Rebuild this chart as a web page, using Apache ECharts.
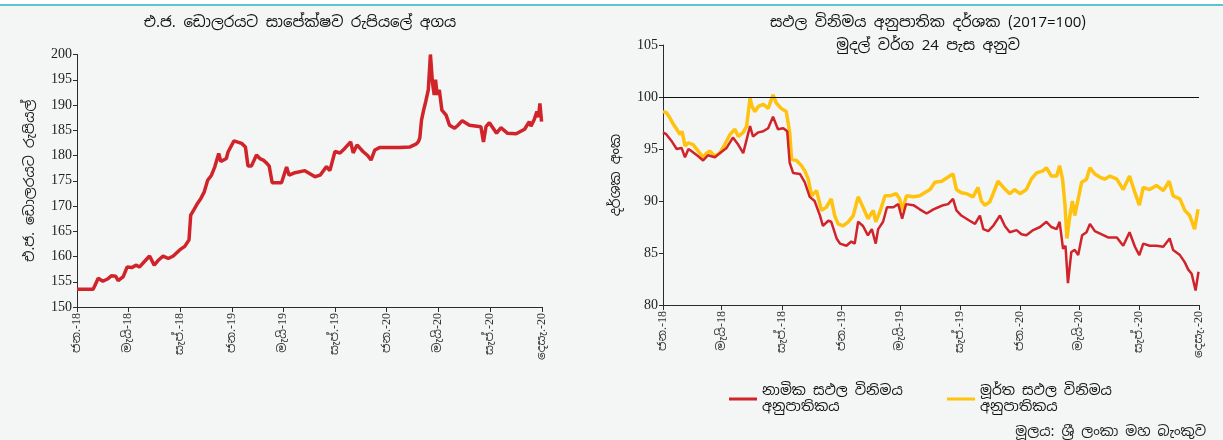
<!DOCTYPE html>
<html>
<head>
<meta charset="utf-8">
<script src="https://cdn.jsdelivr.net/npm/echarts@6.0.0/dist/echarts.min.js"></script>
<style>
  html, body { margin: 0; padding: 0; background: #ffffff; }
  #chart { width: 1223px; height: 440px; }
</style>
</head>
<body>
<div id="chart"></div>
<script>
// ---------- DATA ----------
const tickDates = ['2018-01-01','2018-05-01','2018-09-01','2019-01-01','2019-05-01','2019-09-01','2020-01-01','2020-05-01','2020-09-01','2021-01-01'];
const tickLabels = ['ජන.-18','මැයි-18','සැප්.-18','ජන.-19','මැයි-19','සැප්.-19','ජන.-20','මැයි-20','සැප්.-20','දෙසැ.-20'];

const leftTicks = [150,155,160,165,170,175,180,185,190,195,200];
const rightTicks = [80,85,90,95,100,105];

const usdDates = ['2018-01-01','2018-01-20','2018-02-08','2018-02-12','2018-02-20','2018-03-03','2018-03-15','2018-03-23','2018-04-02','2018-04-08','2018-04-20','2018-04-29','2018-05-10','2018-05-21','2018-05-28','2018-06-09','2018-06-21','2018-07-02','2018-07-11','2018-07-23','2018-08-04','2018-08-16','2018-08-31','2018-09-12','2018-09-22','2018-09-26','2018-10-03','2018-10-12','2018-10-20','2018-10-28','2018-11-05','2018-11-14','2018-11-22','2018-12-01','2018-12-06','2018-12-19','2018-12-23','2019-01-06','2019-01-24','2019-02-02','2019-02-08','2019-02-16','2019-02-28','2019-03-08','2019-03-16','2019-03-24','2019-03-30','2019-04-06','2019-04-28','2019-05-10','2019-05-16','2019-05-30','2019-06-22','2019-07-16','2019-07-28','2019-08-12','2019-08-20','2019-09-01','2019-09-13','2019-09-24','2019-10-08','2019-10-14','2019-10-23','2019-11-06','2019-11-17','2019-11-25','2019-12-04','2019-12-16','2020-01-04','2020-02-01','2020-02-25','2020-03-11','2020-03-16','2020-03-19','2020-03-23','2020-03-28','2020-04-02','2020-04-08','2020-04-13','2020-04-18','2020-04-22','2020-04-25','2020-04-29','2020-05-04','2020-05-10','2020-05-20','2020-05-28','2020-06-09','2020-06-17','2020-06-27','2020-07-14','2020-08-10','2020-08-16','2020-08-22','2020-08-30','2020-09-16','2020-09-26','2020-10-12','2020-11-01','2020-11-21','2020-12-02','2020-12-06','2020-12-14','2020-12-20','2020-12-24','2020-12-27','2020-12-29','2020-12-31'];
const usdValues = [153.5,153.5,153.5,154.2,155.7,155.1,155.6,156.2,156.1,155.2,156.0,157.9,157.8,158.3,157.9,159.0,160.1,158.3,159.2,160.1,159.6,160.1,161.3,162.0,163.3,168.2,169.2,170.5,171.5,172.8,175.1,176.1,177.8,180.4,178.8,179.4,180.7,182.9,182.4,181.7,177.9,177.9,180.1,179.4,179.1,178.5,177.9,174.6,174.6,177.7,176.1,176.6,177.0,175.8,176.1,177.8,177.0,180.8,180.5,181.4,182.7,180.5,182.1,180.8,180.0,179.1,181.1,181.6,181.6,181.6,181.7,182.3,182.8,183.5,187.0,189.0,190.7,193.0,200.0,194.3,192.0,195.0,192.0,193.0,189.0,188.0,186.0,185.4,186.0,186.9,186.0,185.7,182.7,185.7,186.5,184.4,185.5,184.4,184.3,185.2,186.7,185.8,187.2,188.7,187.6,190.3,190.5,186.7];

const neerDates = ['2018-01-01','2018-01-08','2018-01-18','2018-01-29','2018-02-08','2018-02-15','2018-02-22','2018-02-28','2018-03-14','2018-03-24','2018-04-03','2018-04-17','2018-04-27','2018-05-11','2018-05-24','2018-06-04','2018-06-14','2018-06-21','2018-06-28','2018-07-04','2018-07-15','2018-07-25','2018-08-04','2018-08-14','2018-08-24','2018-09-04','2018-09-12','2018-09-17','2018-09-24','2018-10-08','2018-10-18','2018-10-28','2018-11-07','2018-11-18','2018-11-24','2018-12-05','2018-12-11','2018-12-22','2018-12-29','2019-01-11','2019-01-21','2019-01-28','2019-02-04','2019-02-14','2019-02-24','2019-03-04','2019-03-12','2019-03-17','2019-03-27','2019-04-04','2019-04-17','2019-04-27','2019-05-05','2019-05-13','2019-05-28','2019-06-10','2019-06-24','2019-07-08','2019-07-18','2019-07-28','2019-08-07','2019-08-17','2019-08-24','2019-09-03','2019-09-20','2019-10-01','2019-10-11','2019-10-18','2019-10-28','2019-11-07','2019-11-21','2019-12-01','2019-12-11','2019-12-25','2020-01-04','2020-01-14','2020-01-28','2020-02-11','2020-02-24','2020-03-05','2020-03-16','2020-03-22','2020-03-29','2020-04-03','2020-04-08','2020-04-15','2020-04-22','2020-04-29','2020-05-07','2020-05-16','2020-05-23','2020-06-02','2020-06-16','2020-06-29','2020-07-17','2020-07-30','2020-08-12','2020-08-23','2020-09-01','2020-09-09','2020-09-22','2020-10-06','2020-10-20','2020-11-02','2020-11-09','2020-11-23','2020-12-03','2020-12-10','2020-12-17','2020-12-25','2020-12-31'];
const neerValues = [96.6,96.4,95.8,95.0,95.1,94.2,95.0,94.8,94.3,93.9,94.4,94.2,94.6,95.1,96.1,95.4,94.6,95.9,97.2,96.2,96.6,96.7,97.0,98.1,96.9,97.0,96.7,93.7,92.7,92.6,91.8,90.4,90.0,88.6,87.6,88.1,88.0,86.4,85.9,85.7,86.1,85.9,88.0,87.6,86.7,87.3,85.9,87.3,88.0,89.4,89.4,89.7,88.3,89.7,89.6,89.2,88.8,89.2,89.4,89.6,89.7,90.2,89.1,88.6,88.1,87.8,88.6,87.3,87.1,87.6,88.6,87.6,87.0,87.2,86.8,86.7,87.2,87.5,88.0,87.5,87.3,88.0,85.4,85.7,82.1,85.1,85.3,84.8,86.7,87.0,87.8,87.1,86.8,86.5,86.5,85.7,87.0,85.6,84.8,85.9,85.7,85.7,85.6,86.4,85.3,84.8,84.1,83.4,83.0,81.4,83.2];

const reerDates = ['2018-01-01','2018-01-08','2018-01-15','2018-01-22','2018-01-29','2018-02-05','2018-02-09','2018-02-15','2018-02-22','2018-03-04','2018-03-14','2018-03-24','2018-03-31','2018-04-07','2018-04-17','2018-04-27','2018-05-07','2018-05-18','2018-05-28','2018-06-04','2018-06-14','2018-06-21','2018-06-28','2018-07-02','2018-07-08','2018-07-15','2018-07-25','2018-08-04','2018-08-14','2018-08-21','2018-08-31','2018-09-10','2018-09-17','2018-09-21','2018-10-01','2018-10-11','2018-10-18','2018-10-25','2018-11-01','2018-11-11','2018-11-21','2018-12-01','2018-12-11','2018-12-18','2018-12-25','2019-01-04','2019-01-15','2019-01-25','2019-02-04','2019-02-14','2019-02-24','2019-03-07','2019-03-12','2019-03-20','2019-03-31','2019-04-10','2019-04-23','2019-04-30','2019-05-05','2019-05-14','2019-05-28','2019-06-10','2019-06-20','2019-07-01','2019-07-11','2019-07-25','2019-08-07','2019-08-17','2019-08-24','2019-09-03','2019-09-14','2019-09-27','2019-10-07','2019-10-14','2019-10-21','2019-10-31','2019-11-07','2019-11-17','2019-11-28','2019-12-11','2019-12-21','2020-01-01','2020-01-14','2020-01-24','2020-02-04','2020-02-17','2020-02-24','2020-03-05','2020-03-16','2020-03-22','2020-03-28','2020-04-02','2020-04-06','2020-04-12','2020-04-17','2020-04-22','2020-04-29','2020-05-06','2020-05-16','2020-05-23','2020-06-02','2020-06-12','2020-06-22','2020-07-03','2020-07-17','2020-07-30','2020-08-12','2020-08-23','2020-09-01','2020-09-09','2020-09-22','2020-10-06','2020-10-20','2020-11-01','2020-11-09','2020-11-23','2020-12-03','2020-12-13','2020-12-23','2020-12-30'];
const reerValues = [98.6,98.5,98.0,97.4,96.9,96.4,96.7,95.3,95.6,95.4,94.8,94.2,94.6,94.8,94.3,94.6,95.4,96.4,96.9,96.2,96.6,97.2,99.9,99.1,98.6,99.1,99.3,98.9,100.2,99.4,98.9,98.6,96.6,94.0,93.9,93.4,92.9,92.1,90.5,91.0,89.1,89.4,90.2,88.6,87.8,87.6,88.0,88.6,90.4,89.4,88.3,89.1,88.0,88.9,90.5,90.5,90.7,90.2,89.1,90.5,90.4,90.5,90.8,91.1,91.8,91.9,92.3,92.6,91.1,90.8,90.7,90.4,91.3,90.0,89.6,89.9,90.7,91.9,91.3,90.7,91.1,90.7,91.1,92.1,92.7,92.9,93.2,92.4,92.4,93.4,92.1,89.6,86.4,88.6,90.0,88.6,90.2,91.8,92.1,93.2,92.6,92.3,92.1,92.4,92.1,91.1,92.4,90.8,89.6,91.3,91.1,91.5,91.0,91.9,90.5,90.2,89.1,88.6,87.3,89.2];

const leftTitle = 'එ.ජ. ඩොලරයට සාපේක්ෂව රුපියලේ අගය';
const rightTitle1 = 'සඵල විනිමය අනුපාතික දර්ශක (2017=100)';
const rightTitle2 = 'මුදල් වර්ග 24 පැස අනුව';
const leftYName = 'එ.ජ. ඩොලරයට රුපියල්';
const rightYName = 'දර්ශක අංක';
const neerName = 'නාමික සඵල විනිමය\nඅනුපාතිකය';
const reerName = 'මූර්ත සඵල විනිමය\nඅනුපාතිකය';
const sourceText = 'මූලය: ශ්‍රී ලංකා මහ බැංකුව';

// ---------- BUILD ----------
function ts(s) { const p = s.split('-').map(Number); return Date.UTC(p[0], p[1] - 1, p[2]); }
const tickTs = tickDates.map(ts);
const labelMap = {};
tickTs.forEach((t, i) => { labelMap[t] = tickLabels[i]; });
const pair = (ds, vs) => ds.map((d, i) => [ts(d), vs[i]]);

const SERIF = '"Liberation Serif", "DejaVu Serif", "Noto Sans Sinhala", serif';
const SANS = '"Noto Sans Sinhala", "Noto Sans", "DejaVu Sans", sans-serif';
const AX = '#2b2b2b';

function xAxisCfg(gridIndex) {
  return {
    type: 'value', gridIndex: gridIndex,
    min: tickTs[0], max: tickTs[tickTs.length - 1],
    axisLine: { show: true, lineStyle: { color: AX, width: 1 } },
    axisTick: { show: true, length: 5, lineStyle: { color: AX }, customValues: tickTs },
    axisLabel: {
      customValues: tickTs, rotate: 90, margin: 6,
      fontFamily: SERIF, fontSize: 12, color: '#333',
      formatter: function (v) { return labelMap[v] !== undefined ? labelMap[v] : ''; }
    },
    splitLine: { show: false }
  };
}
function yAxisCfg(gridIndex, ticks, name, gap) {
  return {
    type: 'value', gridIndex: gridIndex,
    min: ticks[0], max: ticks[ticks.length - 1], interval: ticks[1] - ticks[0],
    name: name, nameLocation: 'middle', nameRotate: 90, nameGap: gap,
    nameTextStyle: { fontFamily: SANS, fontSize: 14, color: '#1a1a1a' },
    axisLine: { show: true, lineStyle: { color: AX, width: 1 } },
    axisTick: { show: true, length: 4, lineStyle: { color: AX } },
    axisLabel: { fontFamily: SERIF, fontSize: 14, color: '#222', margin: 5 },
    splitLine: { show: false }
  };
}

const chart = echarts.init(document.getElementById('chart'), null, { renderer: 'canvas' });
chart.setOption({
  backgroundColor: '#f3f6f5',
  animation: false,
  graphic: [
    { type: 'rect', shape: { x: 0, y: 0, width: 1223, height: 4 }, style: { fill: '#ffffff' }, silent: true },
    { type: 'rect', shape: { x: 0, y: 4, width: 1223, height: 2 }, style: { fill: '#5cc6d0' }, silent: true },
    { type: 'text', x: 300, y: 23, style: { text: leftTitle, textAlign: 'center', textVerticalAlign: 'middle', font: '15px ' + SANS, fill: '#111' } },
    { type: 'text', x: 928, y: 23, style: { text: rightTitle1, textAlign: 'center', textVerticalAlign: 'middle', font: '15px ' + SANS, fill: '#111' } },
    { type: 'text', x: 928, y: 46, style: { text: rightTitle2, textAlign: 'center', textVerticalAlign: 'middle', font: '15px ' + SANS, fill: '#111' } },
    { type: 'text', x: 1206, y: 432, style: { text: sourceText, textAlign: 'right', textVerticalAlign: 'middle', font: '14px ' + SANS, fill: '#222' } }
  ],
  legend: [
    { left: 724, top: 378, data: [neerName], icon: 'rect', itemWidth: 28, itemHeight: 3, itemGap: 10,
      textStyle: { fontFamily: SANS, fontSize: 14, color: '#111', lineHeight: 16 } },
    { left: 942, top: 378, data: [reerName], icon: 'rect', itemWidth: 28, itemHeight: 3, itemGap: 10,
      textStyle: { fontFamily: SANS, fontSize: 14, color: '#111', lineHeight: 16 } }
  ],
  grid: [
    { left: 77, top: 54.5, width: 465, height: 252.5, containLabel: false },
    { left: 663, top: 45, width: 536, height: 260, containLabel: false }
  ],
  xAxis: [xAxisCfg(0), xAxisCfg(1)],
  yAxis: [yAxisCfg(0, leftTicks, leftYName, 40), yAxisCfg(1, rightTicks, rightYName, 40)],
  series: [
    { name: 'USD', type: 'line', xAxisIndex: 0, yAxisIndex: 0, data: pair(usdDates, usdValues),
      showSymbol: false, symbol: 'none', lineStyle: { color: '#d1232a', width: 3.5 }, itemStyle: { color: '#d1232a' } },
    { name: reerName, type: 'line', xAxisIndex: 1, yAxisIndex: 1, data: pair(reerDates, reerValues),
      showSymbol: false, symbol: 'none', lineStyle: { color: '#ffc20e', width: 3.5 }, itemStyle: { color: '#ffc20e' },
      markLine: { silent: true, symbol: ['none', 'none'], label: { show: false },
        lineStyle: { color: '#111', width: 1, type: 'solid' }, data: [{ yAxis: 100 }] } },
    { name: neerName, type: 'line', xAxisIndex: 1, yAxisIndex: 1, data: pair(neerDates, neerValues),
      showSymbol: false, symbol: 'none', lineStyle: { color: '#d1232a', width: 2.5 }, itemStyle: { color: '#d1232a' } }
  ]
});
</script>
</body>
</html>
